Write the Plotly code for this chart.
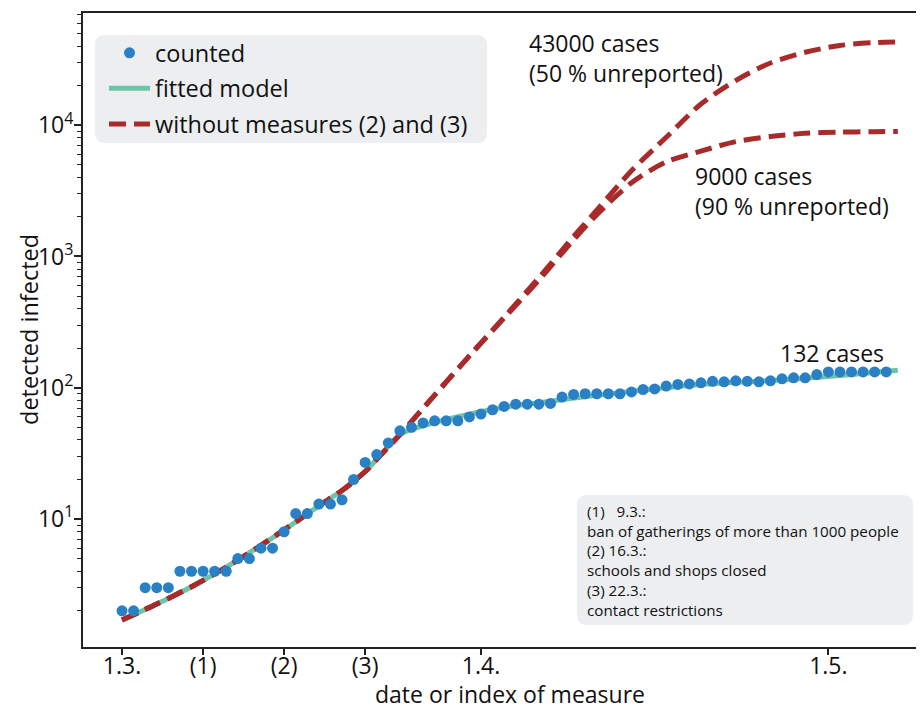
import plotly.graph_objects as go

# ---------------- data ----------------
tick_days = [0, 7, 14, 21, 31, 61]
tick_labels = ["1.3.", "(1)", "(2)", "(3)", "1.4.", "1.5."]

counted_days = list(range(0, 67))
counted = [2, 2, 3, 3, 3, 4, 4, 4, 4, 4,
           5, 5, 6, 6, 8, 11, 11, 13, 13, 14,
           20, 27, 31, 38, 47, 50, 54, 56, 56, 56,
           60, 63, 68, 72, 75, 75, 75, 76, 85, 89,
           90, 90, 90, 90, 93, 97, 98, 103, 106, 107,
           109, 112, 111, 113, 112, 111, 113, 117, 119, 119,
           126, 132, 132, 132, 132, 132, 132]

fit_days = [0, 3, 6, 9, 12, 15, 17, 19, 21, 22, 24, 25, 27, 30, 33, 36, 41, 45, 50, 55, 59, 63, 67]
fitted = [1.7, 2.25, 3.05, 4.3, 6.3, 9.5, 12.6, 16.5, 23, 28.5, 44, 48, 54.5, 63, 71, 77, 87.5, 96, 106,
          112, 118, 126, 136]

nomeas_days = [0, 3, 6, 9, 12, 15, 17, 19, 21, 22, 24, 27, 30, 33, 36, 39, 41, 44, 47, 50, 53, 56,
               59, 62, 65, 67]
nomeas_50 = [1.7, 2.25, 3.05, 4.3, 6.3, 9.5, 12.6, 16.5, 23, 28.5, 44, 88, 175, 345, 690, 1420, 2250,
             4500, 8100, 14500, 21900, 29800, 36000, 40500, 42600, 43100]
nomeas_90 = [1.7, 2.25, 3.05, 4.3, 6.3, 9.5, 12.6, 16.5, 23, 28.5, 44, 88, 175, 340, 660, 1340, 2080,
             3650, 5250, 6350, 7500, 8200, 8680, 8850, 8930, 8950]

y_ticks = [10, 100, 1000, 10000]
y_ticktext = ["10<sup>1</sup>", "10<sup>2</sup>", "10<sup>3</sup>", "10<sup>4</sup>"]
minor_ticks = [m * 10 ** k for k in range(0, 5) for m in range(2, 10)]

note_blocks = ["(1)\u00a0\u00a0 9.3.:<br>ban of gatherings of more than 1000 people",
               "(2) 16.3.:<br>schools and shops closed",
               "(3) 22.3.:<br>contact restrictions"]
case_labels = ["43000 cases<br>(50 % unreported)", "9000 cases<br>(90 % unreported)"]

# ---------------- layout helpers (page pixels; body has an 8px margin) ----------------
OFF = 8
W, H = 924 - OFF, 709 - OFF
L, R, T, B = 83, 924, 13, 647


def px(x):
    return (x - L) / (R - L)


def py(y):
    return (B - y) / (B - T)


def rrect(x0, y0, x1, y1, r):
    path = (f"M {px(x0 + r)},{py(y0)} L {px(x1 - r)},{py(y0)} "
            f"Q {px(x1)},{py(y0)} {px(x1)},{py(y0 + r)} L {px(x1)},{py(y1 - r)} "
            f"Q {px(x1)},{py(y1)} {px(x1 - r)},{py(y1)} L {px(x0 + r)},{py(y1)} "
            f"Q {px(x0)},{py(y1)} {px(x0)},{py(y1 - r)} L {px(x0)},{py(y0 + r)} "
            f"Q {px(x0)},{py(y0)} {px(x0 + r)},{py(y0)} Z")
    return dict(type="path", path=path, xref="paper", yref="paper",
                fillcolor="#eceef0", line=dict(width=0), layer="below")


FONT = "Open Sans"
FS = 23
DOT = "#2a80c4"
GREEN = "#6cc5a6"
RED = "#a82a2a"

fig = go.Figure()
fig.add_trace(go.Scatter(x=fit_days, y=fitted, mode="lines", name="fitted model",
                         line=dict(color=GREEN, width=5, shape="spline", smoothing=0.8),
                         legendrank=2, legendgroup="b"))
fig.add_trace(go.Scatter(x=nomeas_days, y=nomeas_50, mode="lines", name="without measures (2) and (3)",
                         line=dict(color=RED, width=5, dash="17px,8px", shape="spline", smoothing=0.8),
                         legendrank=3, legendgroup="c"))
fig.add_trace(go.Scatter(x=nomeas_days, y=nomeas_90, mode="lines", showlegend=False,
                         line=dict(color=RED, width=5, dash="17px,8px", shape="spline", smoothing=0.8),
                         legendgroup="c"))
fig.add_trace(go.Scatter(x=counted_days, y=counted, mode="markers", name="counted",
                         marker=dict(color=DOT, size=11), legendrank=1, legendgroup="a"))

anns = []
for txt, x, y in zip(case_labels, [527, 693], [58, 190.5]):
    anns.append(dict(text=txt, x=px(x), y=py(y), xref="paper", yref="paper", align="left",
                     xanchor="left", yanchor="middle", showarrow=False,
                     font=dict(size=FS, color="#111", family=FONT)))
anns.append(dict(text="132 cases", x=px(886), y=py(353), xref="paper", yref="paper",
                 xanchor="right", yanchor="middle", showarrow=False,
                 font=dict(size=FS, color="#111", family=FONT)))
for txt, yy in zip(note_blocks, [520.5, 560, 599.5]):
    anns.append(dict(text=txt, x=px(585), y=py(yy), xref="paper", yref="paper", align="left",
                     xanchor="left", yanchor="middle", showarrow=False,
                     font=dict(size=15.2, color="#111", family=FONT)))
# axis titles
anns.append(dict(text="date or index of measure", x=px(510), y=py(694), xref="paper", yref="paper",
                 xanchor="center", yanchor="middle", showarrow=False,
                 font=dict(size=FS, color="#111", family=FONT)))
anns.append(dict(text="detected infected", x=px(29), y=py(330), xref="paper", yref="paper",
                 xanchor="center", yanchor="middle", showarrow=False, textangle=-90,
                 font=dict(size=FS + 0.5, color="#111", family=FONT)))

fig.update_layout(
    width=W, height=H,
    margin=dict(l=L - OFF, r=0, t=T - OFF, b=H - (B - OFF), autoexpand=False),
    paper_bgcolor="white", plot_bgcolor="white",
    font=dict(family=FONT, size=FS, color="#111"),
    showlegend=True,
    legend=dict(x=px(104), y=py(31), xanchor="left", yanchor="top",
                bgcolor="rgba(0,0,0,0)", font=dict(size=23.5, family=FONT, color="#111"),
                tracegroupgap=2, itemwidth=41),
    shapes=[rrect(95, 35, 487, 143, 10), rrect(577, 495, 913, 625, 10)],
    annotations=anns,
    xaxis=dict(range=[-3.37, 69.26], tickmode="array", tickvals=tick_days, ticktext=tick_labels,
               ticks="outside", ticklen=6, tickwidth=1.5, tickcolor="#222",
               showline=True, linecolor="#222", linewidth=2, mirror=True,
               showgrid=False, zeroline=False, tickfont=dict(size=FS), ticklabelstandoff=-9),
    yaxis=dict(type="log", range=[0.025, 4.855], tickmode="array", tickvals=y_ticks, ticktext=y_ticktext,
               ticks="outside", ticklen=7, tickwidth=1.5, tickcolor="#222",
               minor=dict(tickmode="array", tickvals=minor_ticks, ticks="outside", ticklen=4,
                          tickwidth=1, tickcolor="#222"),
               showline=True, linecolor="#222", linewidth=2, mirror=False,
               showgrid=False, zeroline=False, tickfont=dict(size=FS), ticklabelstandoff=-4),
)

fig.write_html("out.html")
